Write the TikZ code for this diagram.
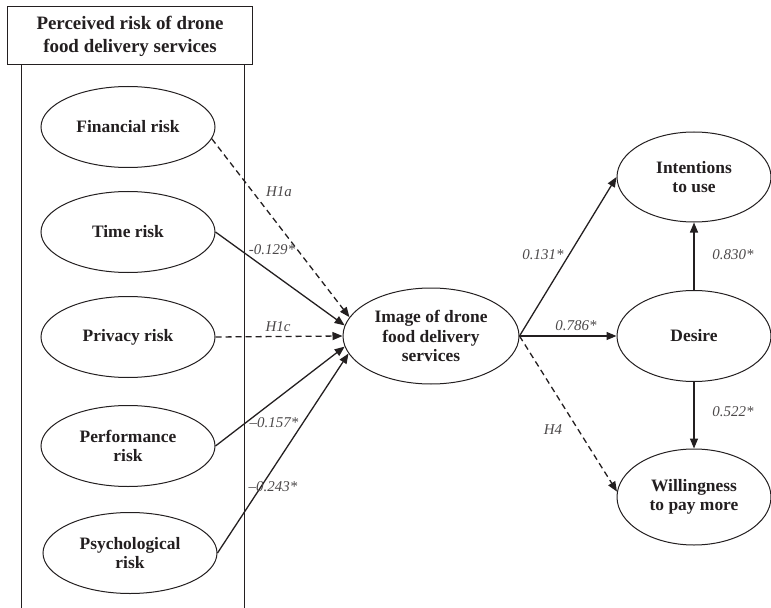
\documentclass[tikz,border=0pt]{standalone}
\usepackage{fontspec}
\setmainfont{Liberation Serif}
\usetikzlibrary{shapes.geometric,arrows.meta}
\definecolor{ink}{RGB}{35,31,32}
\definecolor{coefgray}{RGB}{75,72,73}

\begin{document}
\begin{tikzpicture}[x=1bp,y=-1bp,
    oval/.style={ellipse,draw=ink,line width=1bp,inner sep=0pt,minimum width=174bp,minimum height=81bp,
      align=center,text=ink,font=\fontsize{17.5}{19.5}\selectfont\bfseries},
    link/.style={draw=ink,line width=1.3bp,-{Triangle[length=10bp,width=8bp]}},
    hyp/.style={link,dash pattern=on 6bp off 4bp},
    coef/.style={inner sep=0pt,text=coefgray,font=\fontsize{15}{18}\selectfont\itshape}]
            \useasboundingbox (0,0) rectangle (771,608);
            \node[draw=ink,line width=1bp,minimum width=244bp,minimum height=58bp,inner sep=0pt,align=center,
              text=ink,font=\fontsize{19}{23}\selectfont\bfseries] (title) at (130,36) {Perceived risk of drone\\food delivery services};
            \draw[ink,line width=1bp] (21,65)--(21,608);
            \draw[ink,line width=1bp] (244,65)--(244,608);
            \node[oval] (fin) at (128,127) {Financial risk};
            \node[oval] (time) at (128,232) {Time risk};
            \node[oval] (priv) at (128,337) {Privacy risk};
            \node[oval] (perf) at (128,446) {Performance\\risk};
            \node[oval] (psych) at (130,553) {Psychological\\risk};
            \node[oval,minimum width=176bp,minimum height=96bp] (img) at (431,336) {Image of drone\\food delivery\\services};
            \node[oval,minimum width=154bp,minimum height=90bp] (int) at (694,177) {Intentions\\to use};
            \node[oval,minimum width=154bp,minimum height=91bp] (des) at (694,336) {Desire};
            \node[oval,minimum width=154bp,minimum height=96bp] (will) at (694,497) {Willingness\\to pay more};
            \draw[hyp] (fin.-8)--(img.167);
            \draw[link] (time.east)--(img.173);
            \draw[hyp] (priv.east)--(img.180);
            \draw[link] (perf.east)--(img.187);
            \draw[link] (psych.east)--(img.192);
            \draw[link] (img.east)--(int.west);
            \draw[link] (img.east)--(des.west);
            \draw[hyp] (img.east)--(will.176);
            \draw[link] (des.north)--(int.south);
            \draw[link] (des.south)--(will.north);
            \node[coef] (h1a) at (279,192) {H1a};
            \node[coef] (ctime) at (272,250) {-0.129*};
            \node[coef] (h1c) at (278,327) {H1c};
            \node[coef] (cperf) at (274,423) {–0.157*};
            \node[coef] (cpsych) at (273,487) {–0.243*};
            \node[coef] (cint) at (543,255) {0.131*};
            \node[coef] (cdes) at (576,326) {0.786*};
            \node[coef] (h4) at (553,430) {H4};
            \node[coef] (cup) at (733,255) {0.830*};
            \node[coef] (cdown) at (733,412) {0.522*};
        \end{tikzpicture}
\end{document}
